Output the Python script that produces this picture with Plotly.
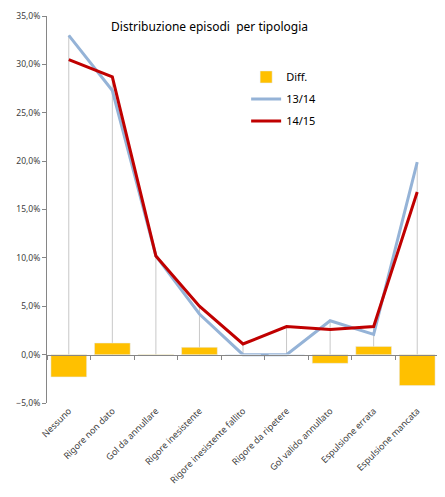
import plotly.graph_objects as go

categories = ["Nessuno", "Rigore non dato", "Gol da annullare", "Rigore inesistente",
              "Rigore inesistente fallito", "Rigore da ripetere", "Gol valido annullato",
              "Espulsione errata", "Espulsione mancata"]
season_1314 = [0.330, 0.273, 0.102, 0.042, 0.0, 0.0, 0.035, 0.021, 0.199]
season_1415 = [0.305, 0.287, 0.102, 0.050, 0.011, 0.029, 0.026, 0.029, 0.168]
diff = [-0.023, 0.012, -0.001, 0.0075, 0.0, 0.0, -0.009, 0.0085, -0.032]

font = "Noto Sans"

# drop lines from the highest point of each category down to the axis
drop_x, drop_y = [], []
for c, a, b in zip(categories, season_1314, season_1415):
    drop_x += [c, c, None]
    drop_y += [max(a, b), 0, None]

fig = go.Figure()
fig.add_trace(go.Scatter(x=drop_x, y=drop_y, mode="lines", showlegend=False,
                         line=dict(color="#C8C8C8", width=1), hoverinfo="skip"))
fig.add_trace(go.Bar(x=categories, y=diff, name="Diff.", marker_color="#FFC000",
                     xaxis="x2", legendgroup="a"))
fig.add_trace(go.Scatter(x=categories, y=season_1314, name="13/14", mode="lines",
                         line=dict(color="#95B3D7", width=3), legendgroup="b"))
fig.add_trace(go.Scatter(x=categories, y=season_1415, name="14/15", mode="lines",
                         line=dict(color="#C00000", width=3), legendgroup="c"))

fig.update_layout(
    width=445, height=497,
    margin=dict(l=39, r=14, t=8, b=102),
    plot_bgcolor="white", paper_bgcolor="white",
    separators=",.",
    font=dict(family=font, size=9, color="#404040"),
    bargap=0.18,
    title=dict(text="Distribuzione episodi  per tipologia", x=0.453, xanchor="center",
               y=0.962, yanchor="middle", font=dict(size=12, color="#000000")),
    legend=dict(x=0.508, y=0.88, xanchor="left", yanchor="top", tracegroupgap=3,
                font=dict(size=11, color="#000000"), bgcolor="rgba(0,0,0,0)"),
    xaxis=dict(type="category", categoryorder="array", categoryarray=categories,
               tickangle=-45, showgrid=False, showline=False, ticks="",
               tickfont=dict(size=9, color="#404040")),
    xaxis2=dict(type="category", categoryorder="array", categoryarray=categories,
                matches="x", overlaying="x", anchor="free", position=0.125,
                showline=True, linecolor="#868686", linewidth=1,
                ticks="outside", tickson="boundaries", ticklen=4, tickcolor="#868686",
                showticklabels=False, showgrid=False),
    yaxis=dict(range=[-0.05, 0.35], dtick=0.05, tickformat=".1%", showgrid=False,
               zeroline=False, showline=True, linecolor="#868686", linewidth=1,
               ticks="outside", ticklen=4, tickcolor="#868686", automargin=False,
               tickfont=dict(size=8.5, color="#404040")),
)

fig.write_html("out.html")
